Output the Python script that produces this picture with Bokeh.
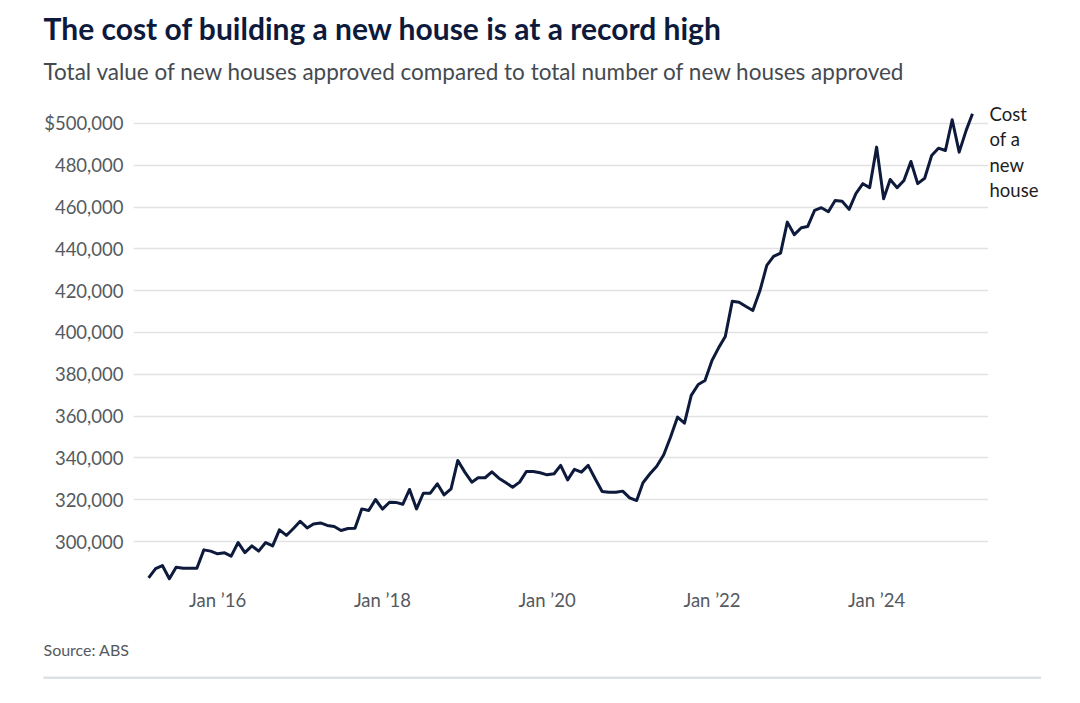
import pandas as pd
from bokeh.plotting import figure
from bokeh.models import (Range1d, FixedTicker, ColumnDataSource, LinearAxis, Title)
from bokeh.embed import file_html
from bokeh.resources import INLINE

# ---------------- data ----------------
start_month = "2015-03-01"
cost_values = [
    282600, 287000, 288500, 282200, 287700, 287200, 287200, 287200, 296000, 295400,
    294100, 294600, 293000, 299500, 294700, 297900, 295400, 299500, 297900, 305600,
    302900, 306100, 309700, 306500, 308400, 308900, 307700, 307200, 305300, 306200,
    306400, 315600, 314800, 320100, 315500, 318800, 318700, 317800, 324900, 315600,
    323100, 323100, 327600, 322300, 325200, 338800, 333200, 328400, 330500, 330500,
    333300, 330300, 328200, 326000, 328400, 333500, 333500, 332900, 331900, 332400,
    336400, 329500, 334500, 333200, 336400, 330000, 323900, 323600, 323600, 324100,
    320900, 319600, 328100, 332400, 336000, 341500, 349900, 359500, 356600, 369900,
    375100, 377000, 386600, 393000, 398100, 415000, 414500, 412400, 410500, 419800,
    432100, 436400, 438000, 452800, 446800, 450100, 450700, 458400, 459700, 457800,
    463200, 462800, 458900, 466400, 471200, 469300, 488700, 464000, 473200, 469300,
    472700, 481800, 471200, 473800, 484700, 488200, 487100, 501800, 486300, 496700,
    504700,
]
dates = pd.date_range(start_month, periods=len(cost_values), freq="MS")

x_tick_dates = ["2016-01-01", "2018-01-01", "2020-01-01", "2022-01-01", "2024-01-01"]
x_tick_labels = ["Jan \u201916", "Jan \u201918", "Jan \u201920", "Jan \u201922", "Jan \u201924"]
y_ticks = [300000, 320000, 340000, 360000, 380000, 400000, 420000, 440000, 460000, 480000, 500000]
y_tick_labels = ["300,000", "320,000", "340,000", "360,000", "380,000", "400,000",
                 "420,000", "440,000", "460,000", "480,000", "$500,000"]

title_text = "The cost of building a new house is at a record high"
subtitle_text = "Total value of new houses approved compared to total number of new houses approved"
source_text = "Source: ABS"
series_label_lines = ["Cost", "of a", "new", "house"]

# ---------------- styling ----------------
FONT = "Lato"
NAVY = "#0e1a3b"
GREY = "#555a60"

W, H = 1080, 703
FL, FR, FT, FB = 133, 988, 100, 585   # frame edges in canvas px
LEFT_TEXT = 43                         # left edge of title / source texts
RULE_RIGHT = 1040

x_start = pd.Timestamp("2014-12-24")
x_end = pd.Timestamp("2025-05-11")

p = figure(width=W, height=H, output_backend="svg", toolbar_location=None,
           x_axis_type="datetime",
           x_range=Range1d(x_start, x_end),
           y_range=Range1d(278950, 511000),
           min_border_left=FL, min_border_right=W - FR,
           min_border_top=FT, min_border_bottom=H - FB,
           background_fill_color="white", border_fill_color="white")
p.outline_line_color = None

src = ColumnDataSource(dict(date=dates, value=cost_values))
p.line("date", "value", source=src, line_color=NAVY, line_width=3, line_join="round")

xt = [pd.Timestamp(d).value // 10**6 for d in x_tick_dates]
p.xaxis.ticker = FixedTicker(ticks=xt)
p.xaxis.major_label_overrides = {t: l for t, l in zip(xt, x_tick_labels)}
p.yaxis.ticker = FixedTicker(ticks=y_ticks)
p.yaxis.major_label_overrides = {t: l for t, l in zip(y_ticks, y_tick_labels)}

# series label beside the end of the line, as a right-hand axis
step = 12200
label_ticks = [cost_values[-1] - i * step for i in range(len(series_label_lines))]
right_ax = LinearAxis(ticker=FixedTicker(ticks=label_ticks),
                      major_label_overrides={t: s for t, s in zip(label_ticks, series_label_lines)})
p.add_layout(right_ax, "right")

for ax in (p.xaxis[0], p.yaxis[0]):
    ax.major_label_text_font_size = "18.5px"
    ax.major_label_text_color = GREY
for ax in (p.xaxis[0], p.yaxis[0], right_ax):
    ax.axis_line_color = None
    ax.major_tick_line_color = None
    ax.minor_tick_line_color = None
    ax.major_tick_out = 0
    ax.major_tick_in = 0
    ax.major_label_text_font = FONT
right_ax.major_label_text_font_size = "18.5px"
right_ax.major_label_text_color = "#1d1d1d"
right_ax.major_label_standoff = 1
p.yaxis[0].major_label_standoff = 10
p.xaxis[0].major_label_standoff = 3

p.xgrid.grid_line_color = None
p.ygrid.grid_line_color = "#e2e2e2"
p.ygrid.grid_line_width = 1.5

# ---- header titles (added nearest-first) ----
head_gap = Title(text=" ", text_font_size="1px", standoff=2)
p.add_layout(head_gap, "above")
sub = Title(text=subtitle_text, align="left", offset=LEFT_TEXT - FL, standoff=21,
            text_font=FONT, text_font_size="22.5px", text_font_style="normal",
            text_color="#444a50")
p.add_layout(sub, "above")
ttl = Title(text=title_text, align="left", offset=LEFT_TEXT - FL, standoff=0,
            text_font=FONT, text_font_size="30px", text_font_style="bold",
            text_color=NAVY)
p.add_layout(ttl, "above")

# ---- footer: source and a thin rule ----
gap = Title(text=" ", text_font_size="1px", standoff=7)
p.add_layout(gap, "below")
src_title = Title(text=source_text, align="left", offset=LEFT_TEXT - FL, standoff=29,
                  text_font=FONT, text_font_size="16px", text_font_style="normal",
                  text_color=GREY)
p.add_layout(src_title, "below")
rule = Title(text=" ", align="left", offset=LEFT_TEXT - FL, standoff=3,
             text_font=FONT, text_font_size="2px", text_color="#dde0e5",
             background_fill_color="#dde0e5", background_fill_alpha=1,
             padding=dict(left=0, right=RULE_RIGHT - LEFT_TEXT, top=0, bottom=0))
p.add_layout(rule, "below")

open("out.html", "w").write(file_html(p, INLINE))
